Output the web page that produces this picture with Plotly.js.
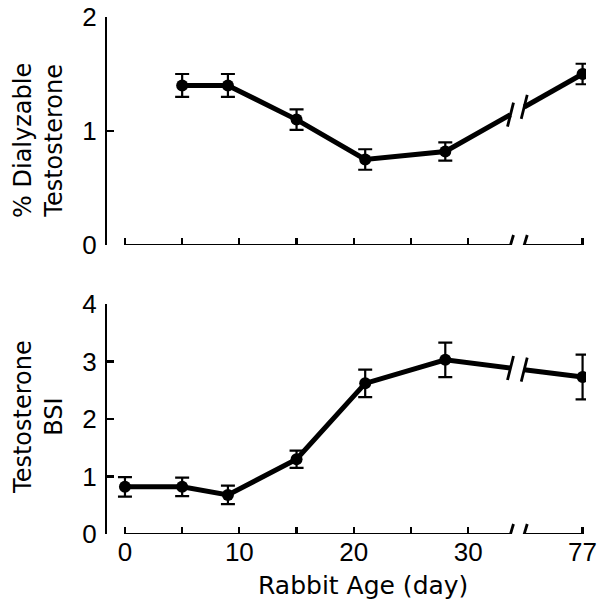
<!DOCTYPE html>
<html>
<head>
<meta charset="utf-8">
<script src="https://cdn.plot.ly/plotly-3.0.1.min.js"></script>
<style>html,body{margin:0;padding:0;background:#fff}#chart{width:600px;height:600px}</style>
</head>
<body>
<div id="chart"></div>
<script>
// ---- data ----
const topAges = [5, 9, 15, 21, 28, 77];
const topValues = [1.40, 1.40, 1.10, 0.75, 0.82, 1.50];
const topErrors = [0.10, 0.10, 0.09, 0.09, 0.08, 0.09];

const bottomAges = [0, 5, 9, 15, 21, 28, 77];
const bottomValues = [0.82, 0.82, 0.68, 1.30, 2.62, 3.03, 2.73];
const bottomErrors = [0.17, 0.16, 0.16, 0.15, 0.24, 0.30, 0.39];

const xTickAges = [0, 5, 10, 15, 20, 25, 30, 77];
const xTickLabels = ['0', '', '10', '', '20', '', '30', '77'];
const topYTicks = [0, 1, 2];
const bottomYTicks = [0, 1, 2, 3, 4];

// ---- broken axis mapping ----
const BREAK_POS = 40;      // axis position where day 77 is drawn
const B1 = 33.7, B2 = 34.9; // break gap on axis
function toAxis(a) { return a <= 30 ? a : BREAK_POS; }
function interp(xs, ys, p) {
  const n = xs.length;
  const x0 = xs[n - 2], x1 = xs[n - 1], y0 = ys[n - 2], y1 = ys[n - 1];
  return y0 + (p - x0) / (x1 - x0) * (y1 - y0);
}

const L = 107, Rpx = 585.6, T = 17, Bpx = 534;
const W = 600, H = 600;
const xRange = [-1.57, 40.3];
const topDomain = [(Bpx - 245) / (Bpx - T), 1];
const botDomain = [0, (Bpx - 304) / (Bpx - T)];

function panelTraces(ages, vals, errs, xa, ya) {
  const xs = ages.map(toAxis);
  const pre = xs.slice(0, -1), preV = vals.slice(0, -1);
  const yb1 = interp(xs, vals, B1), yb2 = interp(xs, vals, B2);
  const lineStyle = {color: '#000', width: 5};
  return [
    {x: pre.concat([B1]), y: preV.concat([yb1]), mode: 'lines', line: lineStyle, xaxis: xa, yaxis: ya, hoverinfo: 'skip'},
    {x: [B2, xs[xs.length - 1]], y: [yb2, vals[vals.length - 1]], mode: 'lines', line: lineStyle, xaxis: xa, yaxis: ya, hoverinfo: 'skip'},
    {x: xs, y: vals, mode: 'markers', marker: {color: '#000', size: 12},
     error_y: {type: 'data', array: errs, visible: true, color: '#000', thickness: 2.2, width: 7},
     xaxis: xa, yaxis: ya}
  ];
}

function breakShapes(xs, vals, xref, yref) {
  const yb1 = interp(xs, vals, B1), yb2 = interp(xs, vals, B2);
  const sh = [];
  const stroke = (xa, ya, h) => ({type: 'line', xref: xref, yref: yref,
    xsizemode: 'pixel', ysizemode: 'pixel', xanchor: xa, yanchor: ya,
    x0: -3, x1: 3, y0: -h, y1: h, line: {color: '#000', width: 2.8}});
  // data line break
  sh.push(stroke(B1, yb1, 12));
  sh.push(stroke(B2, yb2, 12));
  // axis line with break
  sh.push({type: 'line', xref: xref, yref: yref, x0: 0, x1: B1, y0: 0, y1: 0, line: {color: '#000', width: 2.2}});
  sh.push({type: 'line', xref: xref, yref: yref, x0: B2, x1: BREAK_POS, y0: 0, y1: 0, line: {color: '#000', width: 2.2}});
  sh.push(stroke(B1, 0, 10));
  sh.push(stroke(B2, 0, 10));
  return sh;
}

const data = [].concat(
  panelTraces(topAges, topValues, topErrors, 'x2', 'y2'),
  panelTraces(bottomAges, bottomValues, bottomErrors, 'x', 'y')
);

const tickFont = {family: 'Liberation Sans, Arial, sans-serif', size: 26, color: '#000'};
const xCommon = {
  range: xRange, showgrid: false, zeroline: false, showline: false,
  tickmode: 'array', tickvals: xTickAges.map(toAxis), ticktext: xTickLabels,
  ticks: 'inside', ticklen: 7, tickwidth: 2.2, tickcolor: '#000', tickfont: tickFont
};
const yCommon = {
  showgrid: false, zeroline: false, showline: true, linecolor: '#000', linewidth: 2.2,
  ticks: 'inside', ticklen: 7, tickwidth: 2.2, tickcolor: '#000', tickfont: tickFont,
  tickmode: 'array', ticklabelstandoff: 3
};

const pw = W - L - (W - Rpx);
const titleFont = {family: 'DejaVu Sans, sans-serif', size: 24, color: '#000'};
function px2paperX(p) { return (p - L) / pw; }
function px2paperY(p) { return (Bpx - p) / (Bpx - T); }

const layout = {
  width: W, height: H,
  margin: {l: L, r: W - Rpx, t: T, b: H - Bpx},
  paper_bgcolor: '#fff', plot_bgcolor: '#fff',
  showlegend: false,
  xaxis: Object.assign({}, xCommon, {anchor: 'y'}),
  xaxis2: Object.assign({}, xCommon, {anchor: 'y2', showticklabels: false, matches: 'x'}),
  yaxis: Object.assign({}, yCommon, {domain: botDomain, range: [0, 4], tickvals: bottomYTicks, anchor: 'x'}),
  yaxis2: Object.assign({}, yCommon, {domain: topDomain, range: [0, 2], tickvals: topYTicks, anchor: 'x2'}),
  shapes: [].concat(
    breakShapes(topAges.map(toAxis), topValues, 'x2', 'y2'),
    breakShapes(bottomAges.map(toAxis), bottomValues, 'x', 'y')
  ),
  annotations: [
    {text: '% Dialyzable<br>Testosterone', xref: 'paper', yref: 'paper', x: px2paperX(38), y: px2paperY(140),
     textangle: -90, showarrow: false, font: titleFont, xanchor: 'center', yanchor: 'middle', align: 'center'},
    {text: 'Testosterone<br>BSI', xref: 'paper', yref: 'paper', x: px2paperX(38), y: px2paperY(417),
     textangle: -90, showarrow: false, font: titleFont, xanchor: 'center', yanchor: 'middle', align: 'center'},
    {text: 'Rabbit Age (day)', xref: 'paper', yref: 'paper', x: px2paperX(363), y: px2paperY(585),
     showarrow: false, font: Object.assign({}, titleFont, {size: 25}), xanchor: 'center', yanchor: 'middle'}
  ]
};

Plotly.newPlot('chart', data, layout, {displayModeBar: false, staticPlot: true});
</script>
</body>
</html>
